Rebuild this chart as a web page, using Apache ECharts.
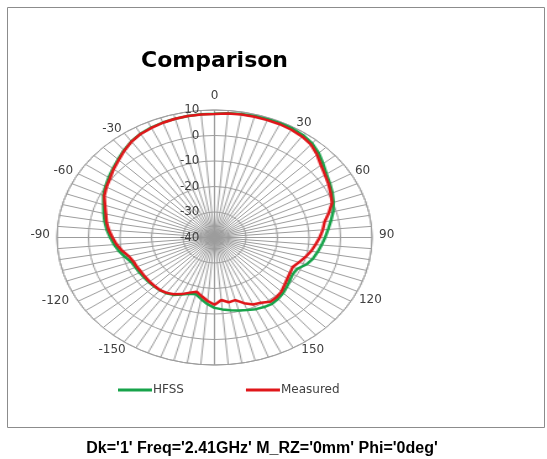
<!DOCTYPE html>
<html><head><meta charset="utf-8">
<script src="https://cdn.jsdelivr.net/npm/echarts@6/dist/echarts.min.js"></script>
<style>
html,body{margin:0;padding:0;background:#fff;}
#wrap{position:relative;width:547px;height:459px;overflow:hidden;background:#fff;}
#grid{position:absolute;left:0;top:0;width:547px;height:459px;transform-origin:214.5px 237.5px;transform:scaleX(1.2353);}
#over{position:absolute;left:0;top:0;width:547px;height:459px;}
</style></head><body>
<div id="wrap"><div id="grid"></div><div id="over"></div></div>
<script>
// ---- data ----
const angles = [0,5,10,15,20,25,30,35,40,45,50,55,60,65,70,75,80,85,90,95,100,105,110,115,120,125,130,135,140,145,150,155,160,165,170,175,180,-175,-170,-165,-160,-155,-150,-145,-140,-135,-130,-125,-120,-115,-110,-105,-100,-95,-90,-85,-80,-75,-70,-65,-60,-55,-50,-45,-40,-35,-30,-25,-20,-15,-10,-5];
const hfss = [8.5,8.9,9.2,9.3,9.4,9.5,9.4,9.0,8.2,6.8,5.0,3.4,2.3,1.3,0.2,-1.0,-2.5,-3.8,-4.9,-5.9,-6.8,-7.7,-9.0,-11.0,-11.3,-10.8,-10.0,-9.2,-8.6,-8.2,-8.5,-9.0,-9.7,-10.4,-11.0,-11.7,-12.4,-13.8,-15.5,-17.0,-16.5,-15.3,-14.0,-13.3,-13.0,-12.9,-12.8,-12.7,-12.5,-12.3,-11.9,-10.6,-9.2,-8.0,-6.9,-5.7,-4.6,-3.6,-2.5,-1.1,0.0,1.0,2.1,3.3,4.7,6.0,7.0,7.6,8.0,8.2,8.4,8.5];
const measured = [8.4,8.8,9.0,9.0,9.0,9.0,8.8,8.4,7.6,6.0,4.1,2.8,1.8,0.7,-0.3,-2.4,-4.5,-5.5,-6.6,-7.8,-8.9,-10.2,-11.5,-12.6,-12.3,-11.8,-11.0,-10.0,-9.4,-9.2,-10.5,-11.0,-12.6,-14.6,-14.2,-15.4,-13.6,-15.0,-16.6,-18.0,-17.0,-15.5,-14.3,-13.5,-13.1,-13.1,-13.1,-13.1,-13.1,-12.8,-12.6,-11.8,-10.2,-8.8,-7.6,-6.3,-5.2,-4.3,-3.0,-1.4,-0.4,0.5,1.8,3.0,4.5,5.9,6.9,7.4,7.9,8.2,8.4,8.4];
const angleTickLabels = [0,30,60,90,120,150,-150,-120,-90,-60,-30];
const radiusMin = -40, radiusMax = 10, radiusStep = 10;
const seriesNames = ['HFSS','Measured'];
const seriesColors = ['#17a34a','#e0161a'];

// ---- layout ----
const CX = 214.5, CY = 237.5, RY = 127.5;
const FONT = 'DejaVu Sans';
const LABEL_COLOR = '#404040';
const GRID_COLOR = '#9c9c9c';

function toPolar(vals){
  const d = angles.map((a,i)=>[vals[i], a<0 ? a+360 : a]);
  d.push([vals[0], 360]); // close the loop like a radar chart
  return d;
}

const grid = echarts.init(document.getElementById('grid'), null, {renderer:'canvas'});
grid.setOption({
  animation:false,
  polar:{center:[CX,CY], radius:RY},
  angleAxis:{type:'value', min:0, max:360, interval:5, startAngle:90, clockwise:true,
    axisLine:{show:true, lineStyle:{color:GRID_COLOR, width:1}},
    axisTick:{show:false}, axisLabel:{show:false},
    splitLine:{show:true, lineStyle:{color:GRID_COLOR, width:1}}},
  radiusAxis:{type:'value', min:radiusMin, max:radiusMax, interval:radiusStep,
    axisLine:{show:false}, axisTick:{show:false}, axisLabel:{show:false},
    splitLine:{show:true, lineStyle:{color:GRID_COLOR, width:1}}},
  series:[
    {name:seriesNames[0], type:'line', coordinateSystem:'polar', data:toPolar(hfss), symbol:'none', smooth:false,
      lineStyle:{color:seriesColors[0], width:2.5}, z:3},
    {name:seriesNames[1], type:'line', coordinateSystem:'polar', data:toPolar(measured), symbol:'none', smooth:false,
      lineStyle:{color:seriesColors[1], width:2.5}, z:4}
  ]
});

// per-label padding [top,right,bottom,left] to place labels round the ellipse
const labelPad = {
  0:[0,0,8,0], 30:[0,0,-2,18], 60:[0,0,-3,30], 90:[0,0,5,37], 120:[-7,0,0,34], 150:[-4,0,0,23],
  '-150':[-4,25,0,0], '-120':[-6,35,0,0], '-90':[0,37,5,0], '-60':[0,31,-3,0], '-30':[0,29,-8,0]
};
const rich = {};
angleTickLabels.forEach(a=>{
  const k = 'a' + (a<0 ? 'm'+(-a) : a);
  rich[k] = {fontFamily:FONT, fontSize:12, color:LABEL_COLOR, padding:labelPad[a]};
});

const over = echarts.init(document.getElementById('over'), null, {renderer:'canvas'});
over.setOption({
  animation:false,
  title:[
    {text:'Comparison', left:CX-5, top:45, textAlign:'center',
      textStyle:{fontFamily:FONT, fontWeight:'bold', fontSize:22, color:'#000'}},
    {text:"Dk='1' Freq='2.41GHz' M_RZ='0mm' Phi='0deg'", left:257, top:436, textAlign:'center',
      textStyle:{fontFamily:'Liberation Sans', fontWeight:'bold', fontSize:16, color:'#000'}}
  ],
  legend:{left:113, top:379, itemWidth:34, itemHeight:3, icon:'rect', itemGap:62,
    data:seriesNames,
    textStyle:{fontFamily:FONT, fontSize:12, color:LABEL_COLOR, padding:[0,0,0,-4]}},
  graphic:[{type:'rect', silent:true, shape:{x:7.5, y:7.5, width:537, height:420},
    style:{fill:'none', stroke:'#8c8c8c', lineWidth:1}}],
  polar:{center:[CX,CY], radius:RY},
  angleAxis:{type:'value', min:0, max:360, interval:5, startAngle:90, clockwise:true,
    axisLine:{show:false}, axisTick:{show:false}, splitLine:{show:false},
    axisLabel:{margin:0, fontFamily:FONT, fontSize:12, color:LABEL_COLOR, rich:rich,
      formatter:function(v){
        const lab = v>180 ? v-360 : v;
        if (angleTickLabels.indexOf(lab) < 0 || v===360) return '';
        const k = 'a' + (lab<0 ? 'm'+(-lab) : lab);
        return '{' + k + '|' + lab + '}';
      }}},
  radiusAxis:{type:'value', min:radiusMin, max:radiusMax, interval:radiusStep,
    axisLine:{show:false}, axisTick:{show:false}, splitLine:{show:false},
    axisLabel:{margin:15, fontFamily:FONT, fontSize:12, color:LABEL_COLOR}},
  series:[
    {name:seriesNames[0], type:'line', coordinateSystem:'polar', data:[], symbol:'none', color:seriesColors[0]},
    {name:seriesNames[1], type:'line', coordinateSystem:'polar', data:[], symbol:'none', color:seriesColors[1]}
  ]
});
</script>
</body></html>
